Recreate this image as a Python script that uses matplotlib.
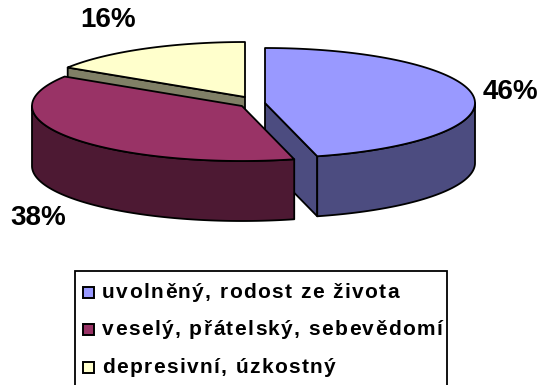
import numpy as np
import matplotlib.pyplot as plt
from matplotlib.patches import Polygon, Rectangle
from matplotlib.font_manager import FontProperties

labels = ['uvolněný, rodost ze života', 'veselý, přátelský, sebevědomí', 'depresivní, úzkostný']
shares = [46, 38, 16]
top_colors = ['#9999FF', '#993366', '#FFFFCC']
side_colors = ['#4C4C80', '#4D1933', '#808066']

# pie geometry, in pixels
cx, cy = 242, 106
rx, ry = 210, 55
depth = 60
shifts = [(23, -3), (0, 0), (3, -9)]   # explode offsets per slice
label_r = [1.18, 1.2, 1.35]

plt.rcParams['font.family'] = ['Liberation Sans', 'DejaVu Sans']

fig = plt.figure(figsize=(5.44, 3.85), dpi=100)
ax = fig.add_axes([0, 0, 1, 1])
ax.set_xlim(0, 544)
ax.set_ylim(385, 0)
ax.axis('off')

edge = dict(edgecolor='black', linewidth=1.3, joinstyle='round')


def rim(ox, oy, t, down=0):
    return ox + rx * np.cos(t), oy - ry * np.sin(t) + down


def arc(ox, oy, t0, t1, down=0, n=120):
    t = np.radians(np.linspace(t0, t1, n))
    x, y = rim(ox, oy, t, down)
    return np.column_stack([x, y])


# slice angles, clockwise from 12 o'clock
ends = 90 - np.cumsum(shares) * 3.6
starts = np.concatenate([[90], ends[:-1]])

faces, sides, tops = [], [], []
for i in range(len(shares)):
    a0, a1 = starts[i], ends[i]
    ox, oy = cx + shifts[i][0], cy + shifts[i][1]
    # cut faces that look towards the viewer
    for a, vis in ((a0, np.cos(np.radians(a0)) < -1e-6), (a1, np.cos(np.radians(a1)) > 1e-6)):
        if vis:
            px, py = rim(ox, oy, np.radians(a))
            faces.append(([(ox, oy), (px, py), (px, py + depth), (ox, oy + depth)], side_colors[i]))
    # curved outer wall on the front half
    for lo, hi in ((-180, 0), (-540, -360), (180, 360)):
        s0, s1 = max(a1, lo), min(a0, hi)
        if s1 > s0:
            upper = arc(ox, oy, s0, s1)
            lower = arc(ox, oy, s1, s0, down=depth)
            sides.append((np.vstack([upper, lower]), side_colors[i]))
    top = np.vstack([[(ox, oy)], arc(ox, oy, a0, a1)])
    tops.append((top, top_colors[i]))

z = 1
for pts, col in faces + sides + tops:
    ax.add_patch(Polygon(pts, closed=True, facecolor=col, zorder=z, **edge))
    z += 1

# percentage labels outside the rim
for i, s in enumerate(shares):
    mid = np.radians((starts[i] + ends[i]) / 2)
    ox, oy = cx + shifts[i][0], cy + shifts[i][1]
    lx = ox + label_r[i] * rx * np.cos(mid)
    ly = oy - 1.6 * ry * np.sin(mid)
    if np.sin(mid) < 0:
        ly += depth
    ax.text(lx, ly, f'{s}%', fontsize=20, fontweight='bold', ha='center', va='center', zorder=50)

# legend box, running off the bottom edge
ax.add_patch(Rectangle((75, 271), 372, 130, facecolor='white', edgecolor='black', linewidth=1.3, zorder=60))

renderer = fig.canvas.get_renderer()
fp = FontProperties(family=['Liberation Sans', 'DejaVu Sans'], weight='bold', size=15)
ref_w = renderer.get_text_width_height_descent('xx', fp, ismath=False)[0]


def spaced_text(x, y, s, spacing):
    for ch in s:
        ax.text(x, y, ch, fontproperties=fp, ha='left', va='baseline', zorder=70)
        w = renderer.get_text_width_height_descent('x' + ch + 'x', fp, ismath=False)[0] - ref_w
        x += w + spacing


row_y = [292, 329, 367]
for i, lab in enumerate(labels):
    ax.add_patch(Rectangle((83, row_y[i] - 5.5), 11, 11, facecolor=top_colors[i],
                           edgecolor='black', linewidth=1.4, zorder=65))
    spaced_text(102, row_y[i] + 6, lab, 1.4)

fig.savefig('out.png', dpi=100)
